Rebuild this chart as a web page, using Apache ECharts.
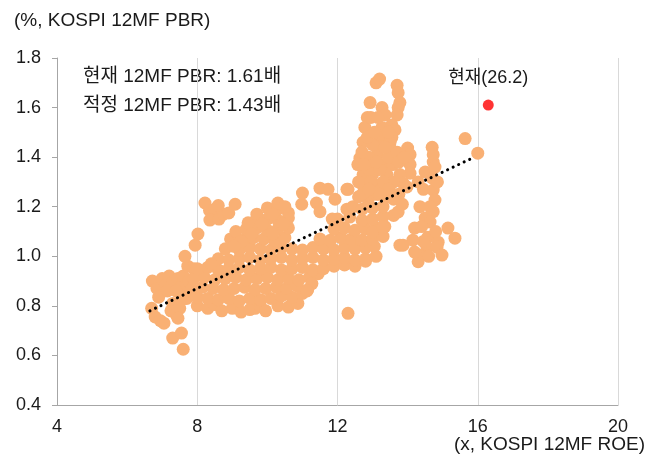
<!DOCTYPE html>
<html><head><meta charset="utf-8">
<script src="https://cdn.jsdelivr.net/npm/echarts@6/dist/echarts.min.js"></script>
<style>html,body{margin:0;padding:0;background:#fff}#c{width:659px;height:456px}</style>
</head><body><div id="c"></div>
<script>
// ---- data (x = KOSPI 12MF ROE %, y = KOSPI 12MF PBR) ----
const xTicks = [4, 8, 12, 16, 20];
const yTicks = [0.4, 0.6, 0.8, 1.0, 1.2, 1.4, 1.6, 1.8];

const leftCluster = [
  [6.7,0.79],[6.8,0.755],[6.95,0.74],[7.05,0.73],
  [6.72,0.90],[6.85,0.87],[6.9,0.835],[7.0,0.91],[7.1,0.885],[7.2,0.92],[7.3,0.895],[7.15,0.86],
  [7.45,0.91],[7.55,0.88],[7.4,0.86],[7.6,0.92],
  [7.3,0.81],[7.25,0.78],[7.4,0.765],[7.5,0.79],[7.55,0.825],[7.45,0.75],
  [7.3,0.67],[7.55,0.69],[7.6,0.625],
  [7.65,0.84],[7.75,0.90],[7.73,0.96],[7.65,1.0],[7.94,1.045],[8.02,1.09],[7.9,0.95]
];
const topLeft = [
  [8.22,1.215],[8.35,1.185],[8.5,1.19],[8.36,1.146],[8.62,1.15],[8.75,1.17],[8.9,1.175],[9.08,1.21],[8.6,1.205],
  [8.8,1.03],[8.95,1.07],[9.1,1.10]
];
const mainBand = [
  [8.0,0.80],[8.3,0.79],[8.5,0.805],[8.7,0.78],[9.0,0.79],[9.25,0.775],[9.5,0.785],[9.65,0.79],[9.8,0.80],[9.95,0.78],[10.3,0.80],[10.6,0.795],[10.87,0.81],
  [7.7,0.83],[8.0,0.835],[8.3,0.83],[8.6,0.825],[8.9,0.83],[9.2,0.82],[9.5,0.83],[9.8,0.825],[10.1,0.83],[10.4,0.84],[10.7,0.835],[11.0,0.85],
  [7.85,0.87],[8.15,0.875],[8.45,0.87],[8.75,0.865],[9.05,0.87],[9.35,0.875],[9.65,0.865],[9.95,0.87],[10.25,0.875],[10.55,0.87],[10.85,0.88],[11.15,0.865],
  [7.9,0.91],[8.2,0.915],[8.5,0.905],[8.8,0.91],[9.1,0.915],[9.4,0.905],[9.7,0.91],[10.0,0.915],[10.3,0.905],[10.6,0.91],[10.9,0.905],[11.2,0.915],[11.45,0.93],
  [8.0,0.95],[8.3,0.955],[8.6,0.945],[8.9,0.95],[9.2,0.955],[9.5,0.945],[9.8,0.95],[10.1,0.955],[10.4,0.945],[10.7,0.95],[11.0,0.955],[11.3,0.945],[11.6,0.95],[11.9,0.96],[12.2,0.965],[12.5,0.96],[12.8,0.98],
  [8.6,0.99],[8.9,0.985],[9.2,0.99],[9.5,0.995],[9.8,0.985],[10.1,0.99],[10.4,0.995],[10.7,0.985],[11.0,0.99],[11.3,0.995],[11.6,0.985],[11.9,0.99],[12.2,0.995],[12.5,0.985],[12.8,0.99],[13.1,1.0],
  [9.2,1.025],[9.5,1.035],[9.8,1.03],[10.1,1.025],[10.4,1.035],[10.7,1.03],[11.0,1.025],[11.3,1.035],[11.6,1.03],[11.9,1.025],[12.2,1.035],[12.5,1.03],[12.8,1.035],[13.05,1.04],
  [9.3,1.065],[9.6,1.075],[9.9,1.07],[10.2,1.065],[10.5,1.075],[11.5,1.07],[11.8,1.065],[12.1,1.075],[12.4,1.07],[12.7,1.065],[13.0,1.07],[13.3,1.08],
  [9.4,1.11],[9.7,1.115],[10.0,1.105],[10.3,1.11],[10.6,1.115],[11.9,1.11],[12.2,1.115],[12.5,1.105],[12.8,1.11],[13.1,1.115],[13.35,1.12],
  [9.45,1.135],[9.7,1.155],[10.0,1.15],[10.3,1.145],[10.6,1.155],[12.0,1.15],[12.35,1.158],[12.7,1.145],[13.0,1.15],[13.3,1.16],[13.6,1.165],
  [9.7,1.17],[10.0,1.195],[10.3,1.19],[10.6,1.175],[10.98,1.21],[11.4,1.215],[11.5,1.18],[11.85,1.15],[12.27,1.19],[12.44,1.2],[12.7,1.19],[13.0,1.195],[13.3,1.2],[13.73,1.179],
  [10.3,1.215],[11.0,1.255],[11.5,1.275],[11.73,1.27],[11.93,1.23],[12.27,1.27],[12.6,1.24],[12.87,1.227],[13.1,1.25],[13.4,1.24],[13.75,1.25],
  [13.0,1.098],[13.3,1.118],[13.78,1.045],[12.3,0.77],
  [9.55,1.09],[9.85,1.13],[10.15,1.17],[10.45,1.13],[10.15,1.09],[9.25,1.06],[10.5,1.2],[9.05,1.04],[8.4,0.97],[11.27,0.89],[11.13,0.86]
];
const column = [
  [13.1,1.70],[13.2,1.715],[13.7,1.69],[13.73,1.66],[13.78,1.62],[12.93,1.62],[13.27,1.60],[13.73,1.60],
  [13.36,1.57],[13.7,1.57],[12.85,1.56],[12.78,1.52],[13.27,1.52],[13.55,1.53],[13.64,1.51],[13.55,1.48],
  [12.73,1.46],[13.2,1.477],[13.27,1.44],[13.5,1.437],[14.0,1.437],[14.07,1.41],[14.07,1.37],[14.07,1.335],
  [12.64,1.396],[12.58,1.37],[13.13,1.41],[13.3,1.37],[13.58,1.37],[12.73,1.33],[13.0,1.33],[13.41,1.33],
  [13.78,1.33],[12.73,1.287],[13.13,1.287],[13.5,1.287],[13.87,1.295],[12.3,1.27],[12.73,1.255],
  [12.9,1.40],[13.0,1.45],[12.9,1.35],[13.2,1.35],[13.45,1.40],[13.7,1.42],[13.75,1.38],[13.6,1.30],
  [13.3,1.30],[12.95,1.30],[12.85,1.48],[13.05,1.50],[13.5,1.46],
  [12.7,1.42],[12.95,1.56],[13.45,1.50],[13.15,1.56],[13.45,1.27],[13.2,1.25],[12.9,1.27],[13.6,1.23],
  [13.85,1.21],[12.6,1.30],[13.9,1.40],[13.35,1.44],[13.1,1.38],[12.75,1.37]
];
const rightTail = [
  [15.64,1.475],[16.0,1.416],[14.7,1.44],[14.73,1.41],[14.73,1.38],[14.5,1.34],[14.78,1.36],[14.7,1.316],
  [14.73,1.267],[13.98,1.28],[14.78,1.227],[14.35,1.2],[14.64,1.2],[14.5,1.154],[14.73,1.18],[14.64,1.138],
  [14.2,1.114],[14.15,1.065],[14.58,1.077],[14.87,1.057],[14.55,1.037],[15.15,1.114],[15.35,1.073],
  [13.87,1.045],[14.35,1.005],[14.84,1.037],[14.98,1.005],[14.3,0.978],[14.2,1.017],
  [14.45,1.27],[14.3,1.30],[14.85,1.30],[14.4,1.12],[14.8,1.10],[14.6,1.00],[14.45,1.06]
];
const currentPoint = [[16.3, 1.61]];
const currentLabel = '현재(26.2)';
const fairLine = [[6.65, 0.78], [15.9, 1.40]];
const titleText = '(%, KOSPI 12MF PBR)';
const xNameText = '(x, KOSPI 12MF ROE)';
const notes = ['현재 12MF PBR: 1.61배', '적정 12MF PBR: 1.43배'];

const history = [].concat(leftCluster, topLeft, mainBand, column, rightTail);

const FONT = "'Liberation Sans', 'Noto Sans CJK KR', sans-serif";
const TXT = '#1a1a1a';
const F = '19px ' + FONT;
const chart = echarts.init(document.getElementById('c'), null, {renderer: 'canvas'});
chart.setOption({
  animation: false,
  backgroundColor: '#fff',
  textStyle: {fontFamily: FONT},
  grid: {left: 57, top: 58, width: 561, height: 347},
  xAxis: {
    type: 'value', min: xTicks[0], max: xTicks[xTicks.length - 1], interval: 4,
    axisLine: {show: true, lineStyle: {color: '#a6a6a6', width: 1}},
    axisTick: {show: false},
    splitLine: {show: true, lineStyle: {color: '#d9d9d9', width: 1}},
    axisLabel: {fontSize: 18, color: TXT, margin: 13, fontFamily: FONT}
  },
  yAxis: {
    type: 'value', min: yTicks[0], max: yTicks[yTicks.length - 1], interval: 0.2,
    axisLine: {show: true, lineStyle: {color: '#a6a6a6', width: 1}},
    axisTick: {show: true, length: 5, lineStyle: {color: '#a6a6a6'}},
    splitLine: {show: false},
    axisLabel: {fontSize: 18, color: TXT, margin: 16, fontFamily: FONT,
      formatter: v => v.toFixed(1)}
  },
  series: [
    {type: 'scatter', data: history, symbolSize: 13, z: 2,
     itemStyle: {color: '#F9B074', opacity: 1}, emphasis: {disabled: true}},
    {type: 'line', data: fairLine, symbol: 'none', z: 3, silent: true,
     lineStyle: {color: '#000', width: 3, type: [0.1, 6], cap: 'round'}},
    {type: 'scatter', data: currentPoint, symbolSize: 11, z: 4,
     itemStyle: {color: '#FF0000'}, emphasis: {disabled: true},
     label: {show: true, position: 'top', distance: 13, formatter: currentLabel,
       fontSize: 18, color: TXT, fontFamily: FONT, textBorderWidth: 0, opacity: 1}}
  ],
  graphic: [
    {type: 'text', x: 14, y: 21, style: {text: titleText, fill: TXT, font: F, verticalAlign: 'middle', align: 'left'}},
    {type: 'text', x: 83, y: 77, style: {text: notes[0], fill: TXT, font: F, verticalAlign: 'middle', align: 'left'}},
    {type: 'text', x: 83, y: 106, style: {text: notes[1], fill: TXT, font: F, verticalAlign: 'middle', align: 'left'}},
    {type: 'text', x: 645, y: 445, style: {text: xNameText, fill: TXT, font: F, verticalAlign: 'middle', align: 'right'}}
  ]
});
</script></body></html>
